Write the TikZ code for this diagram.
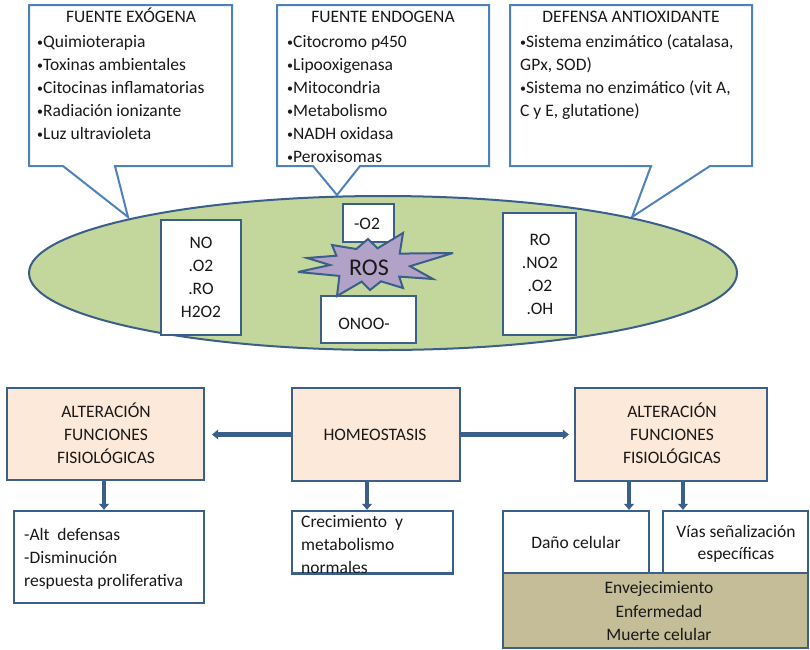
\documentclass[tikz,border=0pt]{standalone}
\usepackage{fontspec}
\setmainfont{Carlito}
\usetikzlibrary{arrows.meta,shapes.geometric}
\definecolor{callb}{HTML}{4F81BD}
\definecolor{boxb}{HTML}{3A5F8B}
\definecolor{cellg}{HTML}{C3D69B}
\definecolor{peach}{HTML}{FDE9D9}
\definecolor{mytan}{HTML}{C4BD97}
\definecolor{lav}{HTML}{B3A2C7}
\newcommand{\myL}[1]{\begin{tabular}[t]{@{}l@{}}#1\end{tabular}}
\newcommand{\myC}[1]{\begin{tabular}[t]{@{}c@{}}#1\end{tabular}}
\newcommand{\bul}{{\fontsize{12}{12}\selectfont\raisebox{0.25ex}{•}}}
\begin{document}
\begin{tikzpicture}[x=1pt,y=-1pt,
  txt/.style={inner sep=0pt, text=black!90, font=\fontsize{17.5}{23}\selectfont},
  callout/.style={draw=callb, fill=white, line width=2pt, line join=miter},
  box/.style={draw=boxb, line width=2.4pt, inner sep=0pt},
  wbox/.style={box, fill=white},
  pbox/.style={box, fill=peach},
  arr/.style={draw=boxb, line width=4.5pt, -{Triangle[width=10pt,length=6pt,line width=0.5pt]}},
]
\useasboundingbox (0,0) rectangle (810,649);

% callouts
\path[callout] (29,5) -- (232,5) -- (232,166) -- (115,166) -- (128,217) -- (63,166) -- (29,166) -- cycle;
\node[txt, anchor=base] (t1) at (131,22.5) {FUENTE EXÓGENA};
\node[txt, anchor=base west] (l1) at (37,47.5) {\myL{\bul Quimioterapia\\\bul Toxinas ambientales\\\bul Citocinas inflamatorias\\\bul Radiación ionizante\\\bul Luz ultravioleta}};

\path[callout] (277,5) -- (489,5) -- (489,166) -- (360,166) -- (337,195) -- (313,166) -- (277,166) -- cycle;
\node[txt, anchor=base] (t2) at (383,22.5) {FUENTE ENDOGENA};
\node[txt, anchor=base west] (l2) at (287,47.5) {\myL{\bul Citocromo p450\\\bul Lipooxigenasa\\\bul Mitocondria\\\bul Metabolismo\\\bul NADH oxidasa\\\bul Peroxisomas}};

\path[callout] (510,5) -- (752,5) -- (752,166) -- (710,166) -- (632,217) -- (651,166) -- (510,166) -- cycle;
\node[txt, anchor=base] (t3) at (631,22.5) {DEFENSA ANTIOXIDANTE};
\node[txt, anchor=base west] (l3) at (520,47.5) {\myL{\bul Sistema enzimático (catalasa,\\GPx, SOD)\\\bul Sistema no enzimático (vit A,\\C y E, glutatione)}};

% cell
\node[draw=boxb, fill=cellg, line width=2pt, ellipse, minimum width=708pt, minimum height=154pt, inner sep=0pt] (cell) at (383,273) {};

\node[wbox, minimum width=80pt, minimum height=115pt] (lbox) at (201,277.5) {};
\node[txt, anchor=base] (lboxt) at (201,248.5) {\myC{NO\\.O2\\.RO\\H2O2}};
\node[wbox, minimum width=73pt, minimum height=122pt] (rbox) at (539.5,274) {};
\node[txt, anchor=base] (rboxt) at (540,245.5) {\myC{RO\\.NO2\\.O2\\.OH}};
\node[wbox, minimum width=51pt, minimum height=38pt] (obox) at (368.5,223) {};
\node[txt, anchor=base] (oboxt) at (367,229.5) {-O2};
\node[wbox, minimum width=95pt, minimum height=47pt] (onbox) at (368.5,319.5) {};
\node[txt, anchor=base] (onboxt) at (364,329) {ONOO-};

\draw[draw=boxb, fill=lav, line width=2pt, line join=miter, miter limit=6]
  (332,245) -- (356.3,249) -- (368,239) -- (377.6,248.3) -- (403,233) -- (399.7,253.6) -- (453,253) -- (410,266.2)
  -- (433,279) -- (399.2,276.6) -- (403,288) -- (381,281.3) -- (370,290) -- (361.7,281.6) -- (337,296) -- (339.4,275.9)
  -- (298,272) -- (330,265) -- (307,258) -- (336.4,255.7) -- cycle;
\node[txt, anchor=base, font=\fontsize{24}{28}\selectfont] (ros) at (369,275) {ROS};

% bottom boxes
\node[pbox, minimum width=197pt, minimum height=92pt] (altL) at (105.5,434) {};
\node[pbox, minimum width=168pt, minimum height=93pt] (hom) at (376,434.5) {};
\node[pbox, minimum width=192pt, minimum height=93pt] (altR) at (671,434.5) {};
\node[wbox, minimum width=190pt, minimum height=92pt] (def) at (109,557) {};
\node[wbox, minimum width=161pt, minimum height=62pt] (crec) at (372.5,542) {};
\node[wbox, minimum width=146pt, minimum height=62pt] (dano) at (576,542) {};
\node[wbox, minimum width=145pt, minimum height=62pt] (vias) at (735.5,542) {};
\node[box, fill=mytan, minimum width=305pt, minimum height=75pt] (brown) at (655.5,610.5) {};

\node[txt, anchor=base] (altLt) at (106,417.5) {\myC{ALTERACIÓN\\FUNCIONES\\FISIOLÓGICAS}};
\node[txt, anchor=base] (homt) at (375,440.5) {HOMEOSTASIS};
\node[txt, anchor=base] (altRt) at (672,417.5) {\myC{ALTERACIÓN\\FUNCIONES\\FISIOLÓGICAS}};
\node[txt, anchor=base west] (deft) at (24,540.5) {\myL{-Alt\ \ defensas\\-Disminución\\respuesta proliferativa}};
\node[txt, anchor=base west] (crect) at (301,527) {\myL{Crecimiento\ \ y\\metabolismo\\normales}};
\draw[draw=boxb, line width=2.4pt] (crec.south west) -- (crec.south east);
\node[txt, anchor=base] (danot) at (576,548.5) {Daño celular};
\node[txt, anchor=base, font=\fontsize{17.5}{22}\selectfont] (viast) at (736,537.5) {\myC{Vías señalización\\específicas}};
\node[txt, anchor=base, font=\fontsize{17.5}{23.5}\selectfont] (brownt) at (659,593.5) {\myC{Envejecimiento\\Enfermedad\\Muerte celular}};

% arrows
\draw[arr, shorten >=7pt] (hom.west) -- (hom.west -| altL.east);
\draw[arr, shorten >=5pt] (hom.east) -- (hom.east -| altR.west);
\draw[arr] ([xshift=-1.5pt]altL.south) -- ([xshift=-1.5pt]altL.south |- def.north);
\draw[arr] ([xshift=-9pt]hom.south) -- ([xshift=-9pt]hom.south |- crec.north);
\draw[arr] ([xshift=-42pt]altR.south) -- ([xshift=-42pt]altR.south |- dano.north);
\draw[arr] ([xshift=12pt]altR.south) -- ([xshift=12pt]altR.south |- vias.north);
\end{tikzpicture}
\end{document}
